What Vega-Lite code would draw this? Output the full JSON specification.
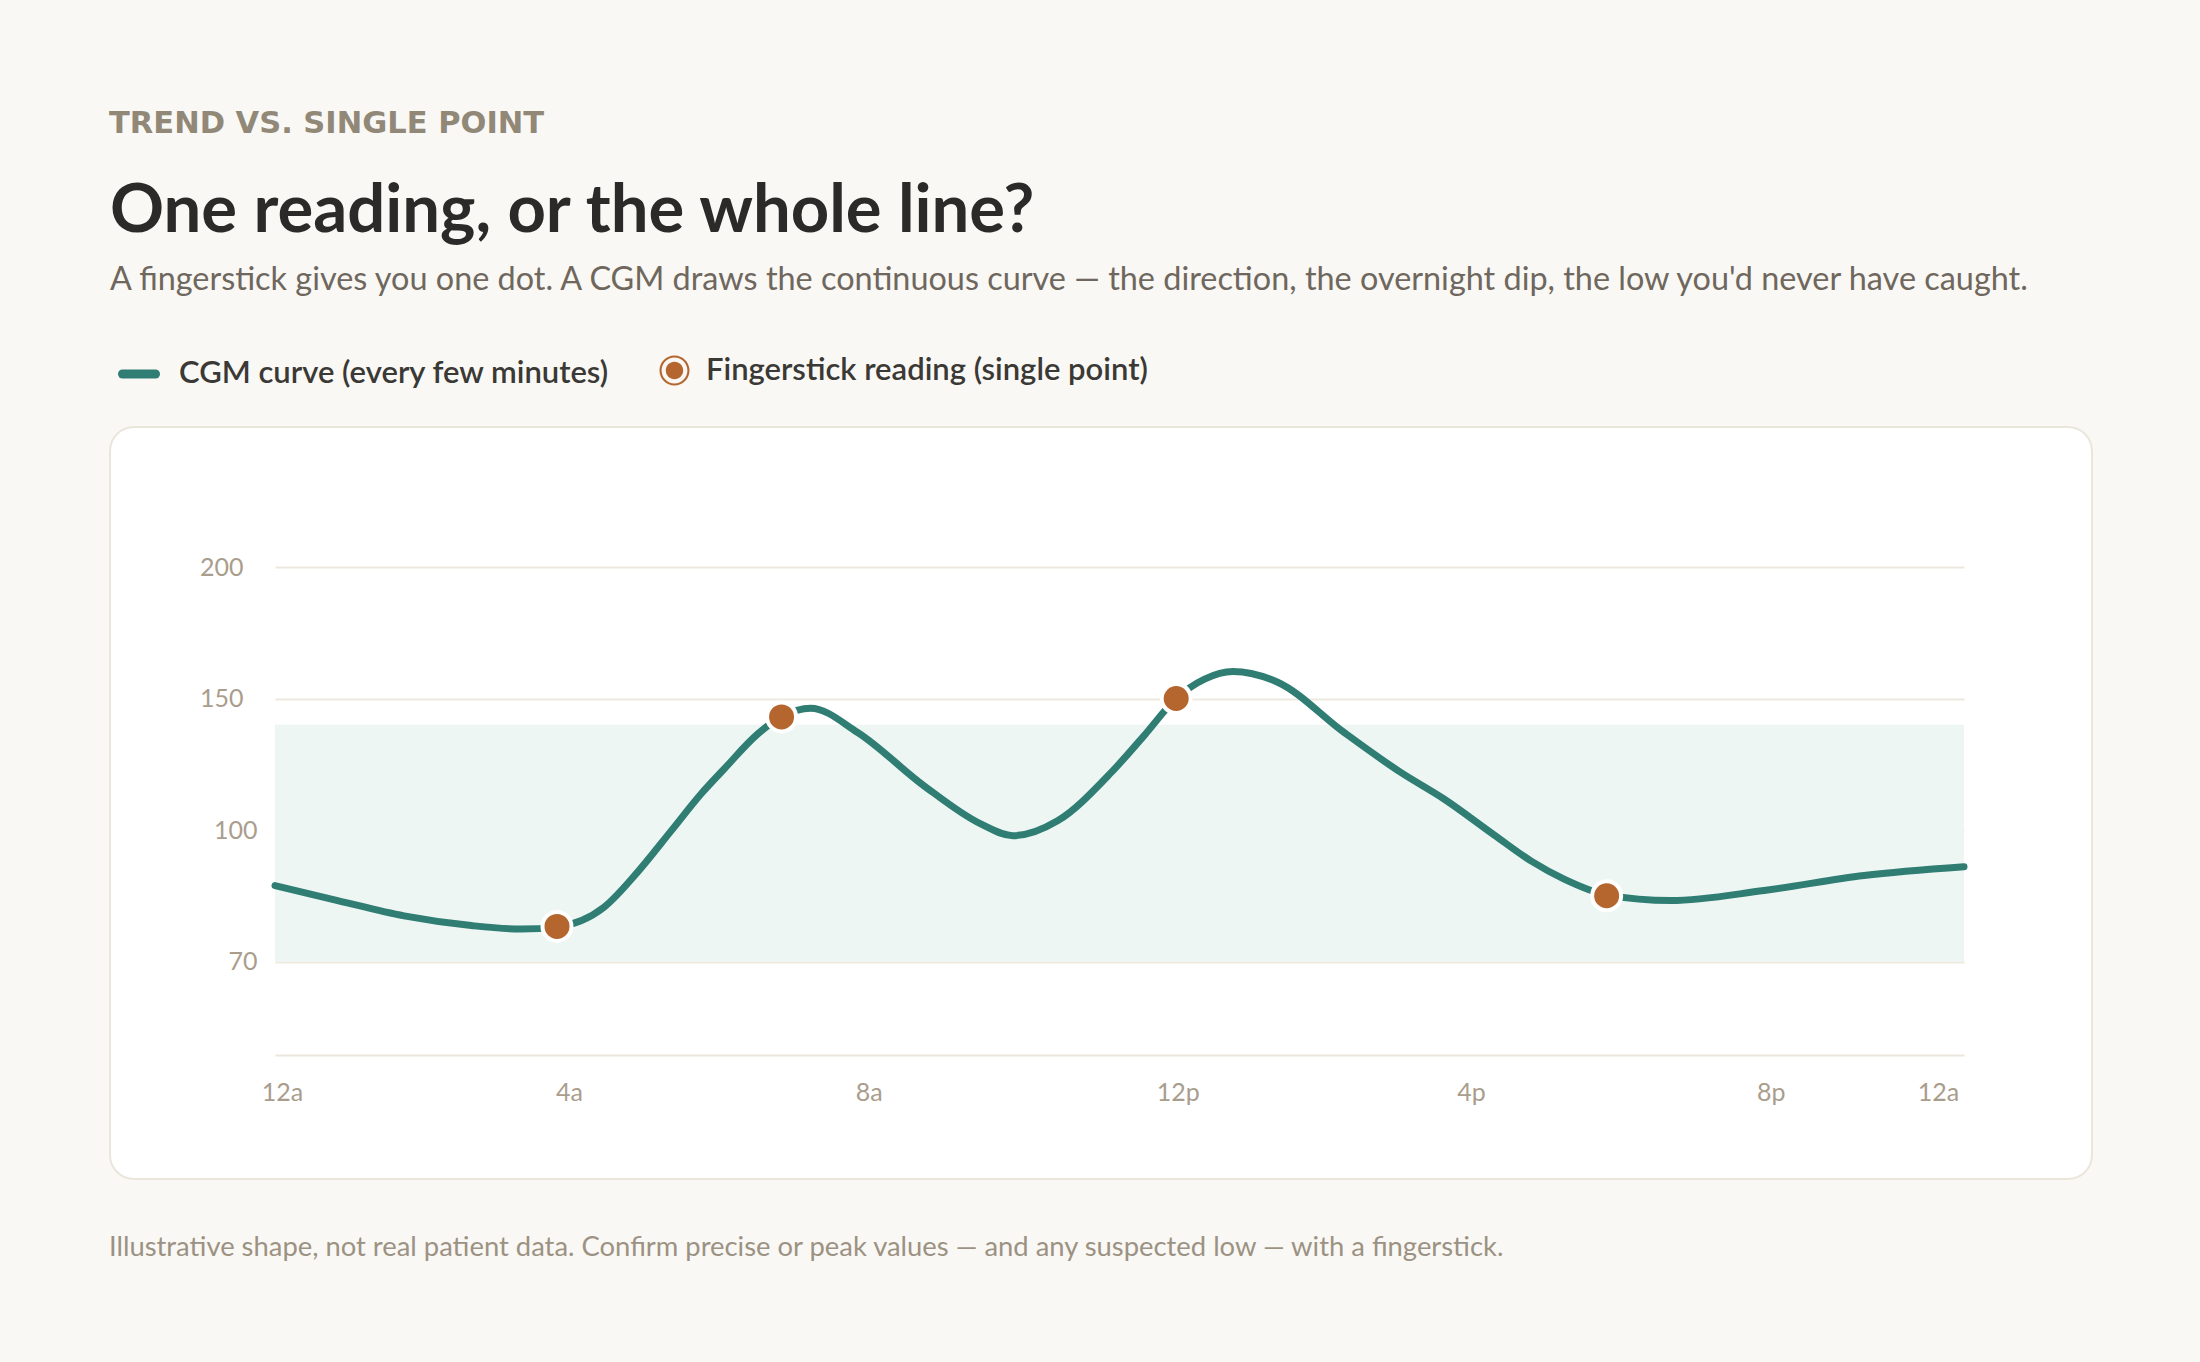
{
  "$schema": "https://vega.github.io/schema/vega-lite/v6.json",
  "background": "#f9f8f4",
  "padding": {"left": 109, "top": 109, "right": 109, "bottom": 160},
  "config": {
    "font": "Lato",
    "view": {"fill": "#ffffff", "stroke": "#ebe6dc", "strokeWidth": 2, "cornerRadius": 24},
    "concat": {"spacing": 0}
  },
  "title": {
    "text": "Illustrative shape, not real patient data. Confirm precise or peak values — and any suspected low — with a fingerstick.",
    "orient": "bottom", "anchor": "start", "fontSize": 27.4, "fontWeight": 400, "color": "#9c9283", "offset": 54
  },
  "datasets": {
    "band": [{"start": 0, "end": 22.64, "low": 70, "high": 140}],
    "cgm": [
      {"hour": 0, "mgdl": 87.3},
      {"hour": 0.84, "mgdl": 83.9},
      {"hour": 1.73, "mgdl": 80.4},
      {"hour": 2.63, "mgdl": 78.2},
      {"hour": 3.3, "mgdl": 77.4},
      {"hour": 3.78, "mgdl": 77.9},
      {"hour": 4.41, "mgdl": 82.4},
      {"hour": 4.86, "mgdl": 90.4},
      {"hour": 5.31, "mgdl": 99.8},
      {"hour": 5.71, "mgdl": 113.7},
      {"hour": 6.02, "mgdl": 123.2},
      {"hour": 6.47, "mgdl": 136.5},
      {"hour": 6.79, "mgdl": 143.1},
      {"hour": 7.18, "mgdl": 146.3},
      {"hour": 7.81, "mgdl": 137.1},
      {"hour": 8.7, "mgdl": 116.8},
      {"hour": 9.46, "mgdl": 102.3},
      {"hour": 9.89, "mgdl": 98.7},
      {"hour": 10.49, "mgdl": 103.5},
      {"hour": 11.21, "mgdl": 121.9},
      {"hour": 11.65, "mgdl": 135.9},
      {"hour": 12.08, "mgdl": 150.0},
      {"hour": 12.46, "mgdl": 157.4},
      {"hour": 12.84, "mgdl": 160.3},
      {"hour": 13.44, "mgdl": 156.2},
      {"hour": 14.33, "mgdl": 137.1},
      {"hour": 15.09, "mgdl": 121.9},
      {"hour": 15.67, "mgdl": 111.8},
      {"hour": 16.34, "mgdl": 98.9},
      {"hour": 16.84, "mgdl": 92.9},
      {"hour": 17.28, "mgdl": 88.8},
      {"hour": 17.85, "mgdl": 85.2},
      {"hour": 18.71, "mgdl": 83.9},
      {"hour": 19.96, "mgdl": 86.2},
      {"hour": 21.3, "mgdl": 89.6},
      {"hour": 22.64, "mgdl": 91.6}
    ],
    "sticks": [
      {"hour": 3.78, "mgdl": 78},
      {"hour": 6.79, "mgdl": 143},
      {"hour": 12.08, "mgdl": 150},
      {"hour": 17.85, "mgdl": 85}
    ]
  },
  "vconcat": [
    {
      "title": {"text": "TREND VS. SINGLE POINT", "anchor": "start", "font": "DejaVu Sans", "fontSize": 30.5, "fontWeight": 700, "color": "#918878", "offset": 37},
      "vconcat": [
        {
          "width": 1982,
          "height": 752,
          "title": {
            "text": "One reading, or the whole line?",
            "subtitle": "A fingerstick gives you one dot. A CGM draws the continuous curve — the direction, the overnight dip, the low you'd never have caught.",
            "anchor": "start", "fontSize": 67, "fontWeight": 700, "color": "#2b2a28",
            "subtitleFontSize": 32.4, "subtitleColor": "#6f675d", "subtitlePadding": 18.5, "offset": 129.5
          },
          "layer": [
            {
              "data": {"name": "band"},
              "mark": {"type": "rect", "color": "#edf6f3"},
              "encoding": {
                "x": {
                  "field": "start", "type": "quantitative",
                  "scale": {"domain": [0, 22.64], "range": [165, 1854], "nice": false, "zero": false},
                  "axis": {
                    "orient": "bottom", "offset": -124, "title": null,
                    "values": [0, 3.94, 7.96, 12.1, 16.03, 20.05, 22.57],
                    "labelExpr": "datum.value == 0 || datum.value > 22 ? '12a' : round(datum.value) < 12 ? round(datum.value) + 'a' : round(datum.value) == 12 ? '12p' : (round(datum.value) - 12) + 'p'",
                    "grid": false, "ticks": false, "tickSize": 0,
                    "domain": true, "domainColor": "#ece7dd", "domainWidth": 2,
                    "labelFontSize": 25, "labelColor": "#a99d8d", "labelPadding": 37, "labelBaseline": "middle",
                    "labelAlign": {"condition": {"test": "datum.value > 22", "value": "right"}, "value": "center"},
                    "labelOffset": {"condition": {"test": "datum.value == 0", "value": 7}, "value": 0},
                    "labelFlush": false, "labelOverlap": false
                  }
                },
                "x2": {"field": "end"},
                "y": {
                  "field": "low", "type": "quantitative",
                  "scale": {"domain": [70, 100, 150, 200], "range": [534.5, 403, 271.5, 140], "nice": false, "zero": false},
                  "axis": {
                    "orient": "left", "offset": -165, "title": null,
                    "values": [70, 100, 150, 200],
                    "grid": true, "gridColor": "#eee9df", "gridWidth": 2,
                    "ticks": false, "tickSize": 0, "domain": false,
                    "labelFontSize": 25, "labelColor": "#a99d8d",
                    "labelPadding": {"condition": {"test": "datum.value == 100 || datum.value == 70", "value": 18}, "value": 32}
                  }
                },
                "y2": {"field": "high"}
              }
            },
            {
              "data": {"name": "cgm"},
              "mark": {"type": "line", "interpolate": "monotone", "strokeWidth": 7, "strokeCap": "round", "strokeJoin": "round"},
              "encoding": {
                "x": {"field": "hour", "type": "quantitative"},
                "y": {"field": "mgdl", "type": "quantitative"},
                "stroke": {
                  "datum": "CGM curve (every few minutes)", "type": "nominal",
                  "scale": {"range": ["#2f7d73"]},
                  "legend": {
                    "orient": "none", "legendX": 8, "legendY": -74, "title": null, "padding": 0,
                    "symbolType": "stroke", "symbolSize": 1089, "symbolStrokeWidth": 9,
                    "labelFontSize": 31, "labelFontWeight": 600, "labelColor": "#3b3935", "labelOffset": 19, "labelLimit": 1000,
                    "encode": {"symbols": {"update": {"strokeCap": {"value": "round"}}}}
                  }
                }
              }
            },
            {
              "data": {"name": "sticks"},
              "mark": {"type": "point", "filled": true, "size": 841, "stroke": "#ffffff", "strokeWidth": 4, "opacity": 1},
              "encoding": {
                "x": {"field": "hour", "type": "quantitative"},
                "y": {"field": "mgdl", "type": "quantitative"},
                "fill": {
                  "datum": "Fingerstick reading (single point)", "type": "nominal",
                  "scale": {"range": ["#b5652e"]},
                  "legend": {
                    "orient": "none", "legendX": 549, "legendY": -72, "title": null, "padding": 0,
                    "symbolType": "M1,0A1,1,0,1,1,-1,0A1,1,0,1,1,1,0ZM0.86,0A0.86,0.86,0,1,0,-0.86,0A0.86,0.86,0,1,0,0.86,0ZM0.58,0A0.58,0.58,0,1,1,-0.58,0A0.58,0.58,0,1,1,0.58,0Z",
                    "symbolSize": 900, "symbolStrokeWidth": 0, "symbolOpacity": 1,
                    "labelFontSize": 31, "labelFontWeight": 600, "labelColor": "#3b3935", "labelOffset": 16, "labelLimit": 1000
                  }
                }
              }
            }
          ]
        }
      ]
    }
  ]
}
